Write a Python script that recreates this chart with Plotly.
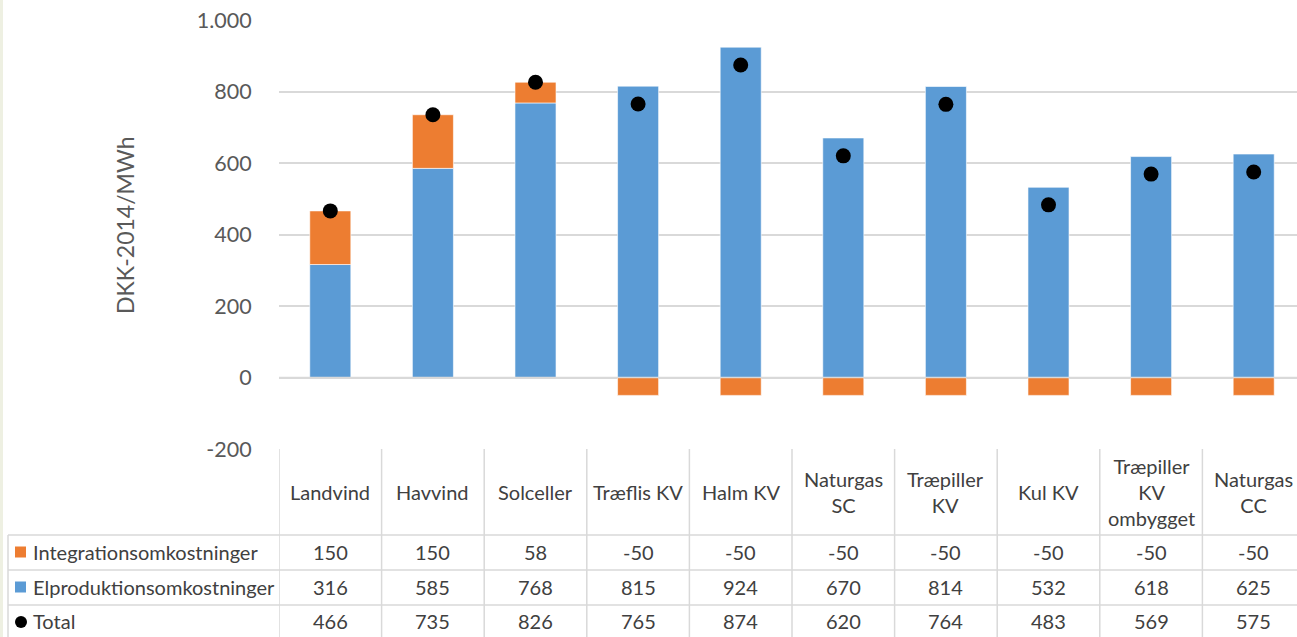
import plotly.graph_objects as go

categories = ["Landvind", "Havvind", "Solceller", "Træflis KV", "Halm KV",
              "Naturgas<br>SC", "Træpiller<br>KV", "Kul KV",
              "Træpiller<br>KV<br>ombygget", "Naturgas<br>CC"]
integration = [150, 150, 58, -50, -50, -50, -50, -50, -50, -50]
elproduktion = [316, 585, 768, 815, 924, 670, 814, 532, 618, 625]
total = [466, 735, 826, 765, 874, 620, 764, 483, 569, 575]
series_names = ["Integrationsomkostninger", "Elproduktionsomkostninger", "Total"]
y_tick_vals = [-200, 0, 200, 400, 600, 800, 1000]
y_tick_text = ["-200", "0", "200", "400", "600", "800", "1.000"]

BLUE = "#5B9BD5"
ORANGE = "#ED7D31"
GRID = "#d9d9d9"
TXT = "#404040"
FONT = "Lato"
TS = 20

W, H = 1297, 637
ML, MT, MB = 279, 20, 188
PW = W - ML
PH = H - MT - MB
COLW = 102.6
n = len(categories)
xr = [-0.5, -0.5 + PW / COLW]

def py(px):  # pixel y -> paper y
    return (H - MB - px) / PH

def pxx(px):  # pixel x -> paper x
    return (px - ML) / PW

xs = list(range(n))

fig = go.Figure()
fig.add_trace(go.Bar(x=xs, y=elproduktion, name=series_names[1], marker_color=BLUE,
                     width=0.4, marker_line_width=0.6, marker_line_color="white"))
fig.add_trace(go.Bar(x=xs, y=integration, name=series_names[0], marker_color=ORANGE,
                     width=0.4, marker_line_width=0.6, marker_line_color="white"))
fig.add_trace(go.Scatter(x=xs, y=total, name=series_names[2], mode="markers",
                         marker=dict(color="black", size=15)))

shapes = []
shapes.append(dict(type="line", xref="paper", yref="y", x0=0, x1=1, y0=0, y1=0,
                   line=dict(color=GRID, width=1.5), layer="above"))
for i in range(n):
    shapes.append(dict(type="line", xref="x", yref="paper", x0=i - 0.5, x1=i - 0.5,
                       y0=0, y1=py(H + 5), line=dict(color=GRID, width=1.5)))
for yy in [535, 570, 605]:
    shapes.append(dict(type="line", xref="paper", yref="paper", x0=pxx(8), x1=1,
                       y0=py(yy), y1=py(yy), line=dict(color=GRID, width=1.5)))
shapes.append(dict(type="line", xref="paper", yref="paper", x0=pxx(8), x1=pxx(8),
                   y0=py(535), y1=py(H + 5), line=dict(color=GRID, width=1.5)))
shapes.append(dict(type="rect", xref="paper", yref="paper", x0=pxx(0), x1=pxx(3),
                   y0=py(0), y1=py(H), fillcolor="#eef0e2", line=dict(width=0)))
# legend keys
shapes.append(dict(type="rect", xref="paper", yref="paper", x0=pxx(15), x1=pxx(26),
                   y0=py(557.5), y1=py(546.5), fillcolor=ORANGE, line=dict(width=0)))
shapes.append(dict(type="rect", xref="paper", yref="paper", x0=pxx(15), x1=pxx(26),
                   y0=py(592.5), y1=py(581.5), fillcolor=BLUE, line=dict(width=0)))
shapes.append(dict(type="circle", xref="paper", yref="paper", x0=pxx(15), x1=pxx(27),
                   y0=py(628), y1=py(616), fillcolor="black", line=dict(width=0)))

annotations = []
for i, c in enumerate(categories):
    annotations.append(dict(x=i, y=py(492), xref="x", yref="paper", text=c,
                            showarrow=False, font=dict(family=FONT, size=TS, color=TXT),
                            xanchor="center", yanchor="middle"))
rows = [(integration, py(552)), (elproduktion, py(587)), (total, py(621))]
for vals, yy in rows:
    for i, v in enumerate(vals):
        annotations.append(dict(x=i, y=yy, xref="x", yref="paper", text=str(v),
                                showarrow=False, font=dict(family=FONT, size=TS, color=TXT),
                                xanchor="center", yanchor="middle"))
for (vals, yy), name in zip(rows, series_names):
    annotations.append(dict(x=pxx(31), y=yy, xref="paper", yref="paper",
                            text=name, showarrow=False,
                            font=dict(family=FONT, size=TS, color=TXT),
                            xanchor="left", yanchor="middle"))
annotations.append(dict(x=pxx(125), y=py(225), xref="paper", yref="paper",
                        text="DKK-2014/MWh", textangle=-90, showarrow=False,
                        font=dict(family=FONT, size=23, color="#595959"),
                        xanchor="center", yanchor="middle"))

fig.update_layout(
    width=W, height=H,
    margin=dict(l=ML, r=0, t=MT, b=MB),
    barmode="relative",
    paper_bgcolor="white", plot_bgcolor="white",
    showlegend=False,
    shapes=shapes,
    annotations=annotations,
    font=dict(family=FONT),
    xaxis=dict(range=xr, showticklabels=False, showgrid=False, zeroline=False,
               showline=False, ticks=""),
    yaxis=dict(range=[-200, 1000], tickvals=y_tick_vals, ticktext=y_tick_text,
               showgrid=True, gridcolor=GRID, gridwidth=1.5, zeroline=False,
               showline=False, ticks="outside", ticklen=22, tickcolor="rgba(0,0,0,0)",
               tickfont=dict(family=FONT, size=21.5, color="#595959")),
)

fig.write_html("out.html")
